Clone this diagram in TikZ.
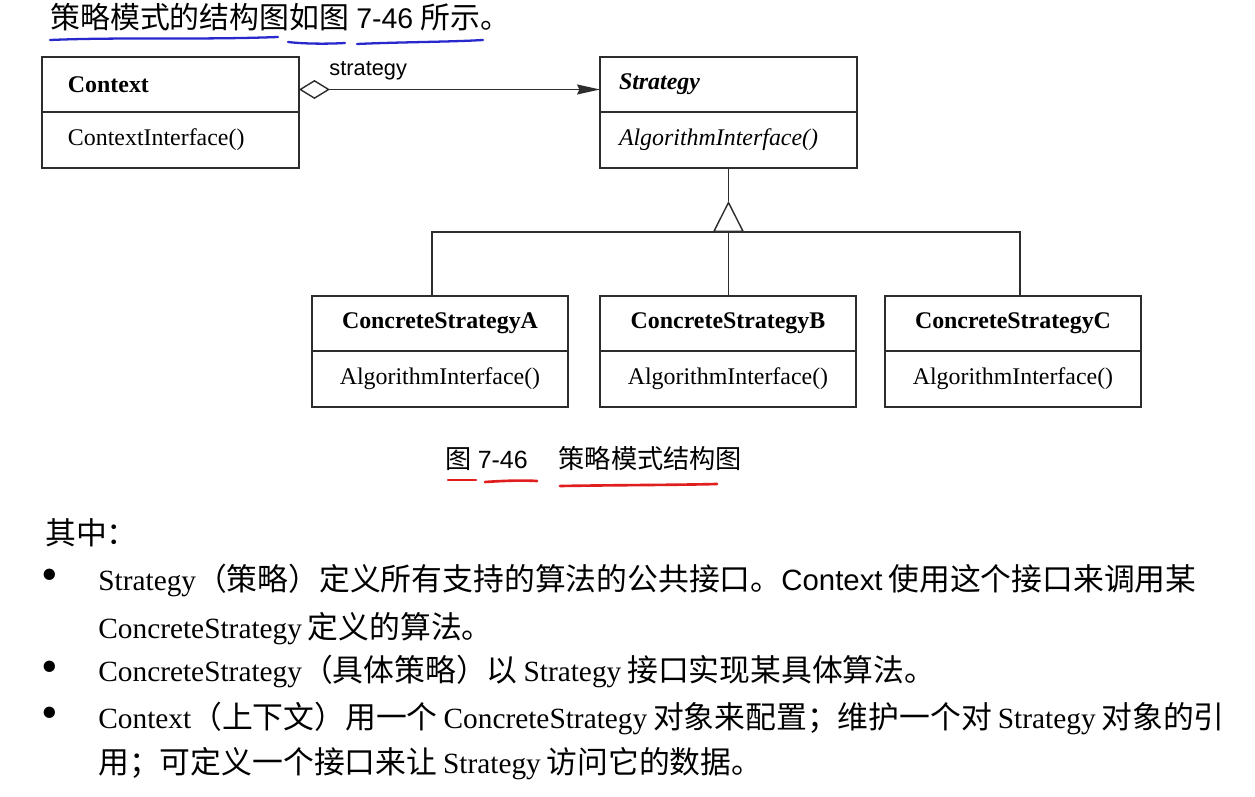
\documentclass[tikz,border=0pt]{standalone}
\usepackage{fontspec}
\setmainfont{Liberation Serif}
\setsansfont{Liberation Sans}
\newfontfamily\zhfont[Scale=1.05]{Noto Sans CJK SC}
\newcommand\zh[1]{{\zhfont #1}}
\newcommand\gap{\hspace{0.2em}}
\newcommand\bodysize{\fontsize{16.7}{20}\selectfont}
\newcommand\umlsize{\fontsize{13.6}{16}\selectfont}
\definecolor{penblue}{RGB}{40,40,205}
\definecolor{penred}{RGB}{225,30,30}
\definecolor{umlline}{RGB}{45,45,45}
\usetikzlibrary{arrows.meta,positioning}

\tikzset{
  clshead/.style={draw=umlline, line width=0.8pt, minimum height=1.1cm,
    inner ysep=0pt, outer sep=0pt, font=\umlsize\bfseries},
  clsop/.style={draw=umlline, line width=0.8pt, minimum height=1.12cm,
    inner ysep=0pt, outer sep=0pt, font=\umlsize},
  concbox/.style={minimum width=5.12cm, inner xsep=0pt, align=center},
  bodytext/.style={anchor=base west, inner sep=0pt, font=\bodysize},
  bulletdot/.style={inner sep=0pt, font=\fontsize{27}{27}\selectfont},
  umlconn/.style={draw=umlline, line width=0.8pt}
}

\begin{document}
\begin{tikzpicture}[x=0.02cm, y=-0.02cm]
  \useasboundingbox[fill=white] (0,0) rectangle (1255,797);

  % heading with pen marks
  \node[bodytext, font=\fontsize{16.2}{20}\selectfont] (head) at (50,29)
    {\zh{策略模式的结构图如图} \textsf{7-46} \zh{所示。}};
  \draw[penblue, line width=1.3pt, line cap=round]
    (50,40) .. controls (120,37) and (200,40) .. (278,37);
  \draw[penblue, line width=1.3pt, line cap=round]
    (288,42) .. controls (305,44) and (328,44) .. (345,43);
  \draw[penblue, line width=1.3pt, line cap=round]
    (357,44) .. controls (400,42) and (450,42) .. (483,40);

  % Context class
  \node[clshead, text width=4.1cm, inner xsep=0.52cm, align=left,
        anchor=north west] (ctx) at (42,57) {Context};
  \node[clsop, text width=4.1cm, inner xsep=0.52cm, align=left,
        below=0pt of ctx] (ctxop) {ContextInterface()};

  % Strategy class
  \node[clshead, text width=4.38cm, inner xsep=0.38cm, align=left,
        anchor=north west] (str) at (600,57) {\itshape Strategy};
  \node[clsop, text width=4.38cm, inner xsep=0.38cm, align=left,
        below=0pt of str] (strop) {\itshape AlgorithmInterface()};

  % aggregation
  \draw[umlconn, {Diamond[open,length=0.62cm,width=0.38cm]}-{Stealth[length=0.46cm,width=0.2cm,inset=0.05cm]}]
    ([yshift=-0.1cm]ctx.east) -- ([yshift=-0.1cm]str.west)
    node[pos=0.23, above=1.5pt, font=\sffamily\fontsize{12.4}{14}\selectfont] (lblstr) {strategy};

  % concrete strategies
  \node[clshead, concbox, anchor=north west] (csa) at (312,296) {ConcreteStrategyA};
  \node[clsop, concbox, below=0pt of csa] (csaop) {AlgorithmInterface()};
  \node[clshead, concbox, anchor=north west] (csb) at (600,296) {ConcreteStrategyB};
  \node[clsop, concbox, below=0pt of csb] (csbop) {AlgorithmInterface()};
  \node[clshead, concbox, anchor=north west] (csc) at (885,296) {ConcreteStrategyC};
  \node[clsop, concbox, below=0pt of csc] (cscop) {AlgorithmInterface()};

  % generalization
  \coordinate[below=0.66cm of strop.south] (apex);
  \coordinate[below=1.28cm of strop.south] (fork);
  \draw[umlconn] (strop.south) -- (apex);
  \draw[umlconn, -{Triangle[open,length=0.62cm,width=0.62cm]}] (fork) -- (apex);
  \draw[umlconn] (fork) -- (fork |- csb.north);
  \draw[umlconn] ([xshift=-0.16cm]csa.north) |- (fork) -| ([xshift=0.14cm]csc.north);

  % caption
  \node[anchor=base west, inner sep=0pt, font=\fontsize{14.2}{17}\selectfont] (cap) at (445,468)
    {\zh{图} \textsf{7-46}\hspace{0.62cm}\zh{策略模式结构图}};
  \draw[penred, line width=1.5pt, line cap=round] (448,480) -- (476,480);
  \draw[penred, line width=1.5pt, line cap=round]
    (485,482) .. controls (500,481) and (520,480) .. (537,481);
  \draw[penred, line width=1.5pt, line cap=round]
    (560,486) .. controls (620,485) and (680,485) .. (717,484);

  % text below
  \node[bodytext] (intro) at (45,544) {\zh{其中：}};

  \node[bulletdot] (b1) at (50,580) {\textbullet};
  \node[bodytext] (l1) at (98,590)
    {Strategy\zh{（策略）定义所有支持的算法的公共接口。}\textsf{Context}\gap\zh{使用这个接口来调用某}};
  \node[bodytext] (l2) at (98,638) {ConcreteStrategy\gap\zh{定义的算法。}};

  \node[bulletdot] (b2) at (50,672) {\textbullet};
  \node[bodytext] (l3) at (98,681)
    {ConcreteStrategy\zh{（具体策略）以}\gap Strategy\gap\zh{接口实现某具体算法。}};

  \node[bulletdot] (b3) at (50,718) {\textbullet};
  \node[bodytext] (l4) at (98,728)
    {Context\zh{（上下文）用一个}\gap ConcreteStrategy\gap\zh{对象来配置；维护一个对}\gap Strategy\gap\zh{对象的引}};
  \node[bodytext] (l5) at (98,773)
    {\zh{用；可定义一个接口来让}\gap Strategy\gap\zh{访问它的数据。}};
\end{tikzpicture}
\end{document}
